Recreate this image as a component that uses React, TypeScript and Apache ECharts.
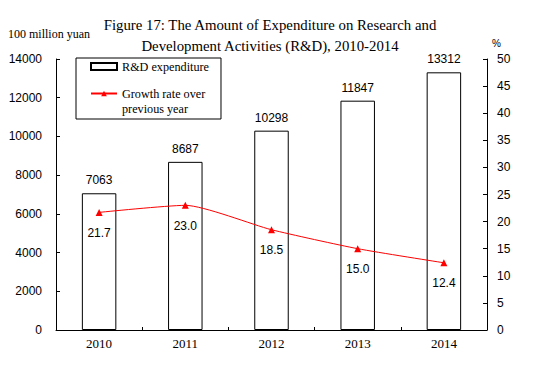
import React, { useEffect, useRef } from "react";
import * as echarts from "echarts";

const years = ["2010", "2011", "2012", "2013", "2014"];
const expenditure = [7063, 8687, 10298, 11847, 13312];
const growthRate = [21.7, 23.0, 18.5, 15.0, 12.4];
const leftTicks = [0, 2000, 4000, 6000, 8000, 10000, 12000, 14000];
const rightTicks = [0, 5, 10, 15, 20, 25, 30, 35, 40, 45, 50];

const SERIF = "'Liberation Serif', 'Times New Roman', serif";
const SANS = "'Liberation Sans', Arial, sans-serif";
const BAR_NAME = "R&D expenditure";
const LINE_NAME = "Growth rate over\nprevious year";

export default function App() {
  const ref = useRef<HTMLDivElement>(null);
  useEffect(() => {
    if (!ref.current) return;
    const chart = echarts.init(ref.current, undefined, { renderer: "svg" });
    chart.setOption({
      animation: false,
      backgroundColor: "#fff",
      title: {
        text: "Figure 17: The Amount of Expenditure on Research and\nDevelopment Activities (R&D), 2010-2014",
        left: 265,
        top: 9,
        textAlign: "center",
        textStyle: {
          fontFamily: SERIF,
          fontSize: 14.8,
          fontWeight: "normal",
          color: "#000",
          lineHeight: 21,
          align: "center",
        },
      },
      legend: {
        orient: "vertical",
        left: 76,
        top: 58,
        borderColor: "#000",
        borderWidth: 1,
        borderRadius: 0,
        padding: [1, 12, 3, 14],
        itemGap: -3,
        itemWidth: 26,
        itemHeight: 7,
        textStyle: { fontFamily: SERIF, fontSize: 12.2, color: "#000", lineHeight: 15 },
        formatter: (name: string) => (name === LINE_NAME ? "\n" + name : name),
        data: [
          { name: BAR_NAME, icon: "rect" },
          { name: LINE_NAME },
        ],
      },
      grid: { left: 56, right: 48, top: 59, bottom: 35 },
      xAxis: {
        type: "category",
        data: years,
        axisLine: { lineStyle: { color: "#000", width: 1 } },
        axisTick: { show: true, inside: true, length: 3, lineStyle: { color: "#000" } },
        axisLabel: { fontFamily: SERIF, fontSize: 13, color: "#000", margin: 7 },
      },
      yAxis: [
        {
          type: "value",
          name: "100 million yuan",
          nameLocation: "end",
          nameGap: 19,
          nameTextStyle: { fontFamily: SERIF, fontSize: 12, color: "#000", align: "left", padding: [0, 0, 0, -48] },
          min: leftTicks[0],
          max: leftTicks[leftTicks.length - 1],
          interval: 2000,
          axisLine: { show: true, lineStyle: { color: "#000" } },
          axisTick: { show: true, inside: true, length: 4, lineStyle: { color: "#000" } },
          axisLabel: { fontFamily: SANS, fontSize: 12, color: "#000", margin: 14, formatter: (v: number) => String(v) },
          splitLine: { show: false },
        },
        {
          type: "value",
          name: "%",
          nameLocation: "end",
          nameGap: 11,
          nameTextStyle: { fontFamily: SANS, fontSize: 10, color: "#000", align: "left", padding: [0, 0, 0, 5] },
          min: rightTicks[0],
          max: rightTicks[rightTicks.length - 1],
          interval: 5,
          position: "right",
          axisLine: { show: true, lineStyle: { color: "#000" } },
          axisTick: { show: true, inside: true, length: 4, lineStyle: { color: "#000" } },
          axisLabel: { fontFamily: SANS, fontSize: 12, color: "#000", margin: 10, formatter: (v: number) => String(v) },
          splitLine: { show: false },
        },
      ],
      series: [
        {
          name: BAR_NAME,
          type: "bar",
          data: expenditure,
          barWidth: "40%",
          itemStyle: { color: "#fff", borderColor: "#000", borderWidth: 1 },
          label: {
            show: true,
            position: "top",
            distance: 7,
            fontFamily: SANS,
            fontSize: 12,
            color: "#000",
          },
        },
        {
          name: LINE_NAME,
          type: "line",
          yAxisIndex: 1,
          data: growthRate,
          smooth: 0.2,
          symbol: "triangle",
          symbolSize: 7,
          lineStyle: { color: "#ff0000", width: 1 },
          itemStyle: { color: "#ff0000" },
          label: {
            show: true,
            position: "bottom",
            distance: 11,
            fontFamily: SANS,
            fontSize: 12,
            color: "#000",
            formatter: (p: any) => Number(p.value).toFixed(1),
          },
        },
      ],
    });
    return () => chart.dispose();
  }, []);
  return <div ref={ref} style={{ width: 535, height: 365, position: "absolute", left: 0, top: 0 }} />;
}
